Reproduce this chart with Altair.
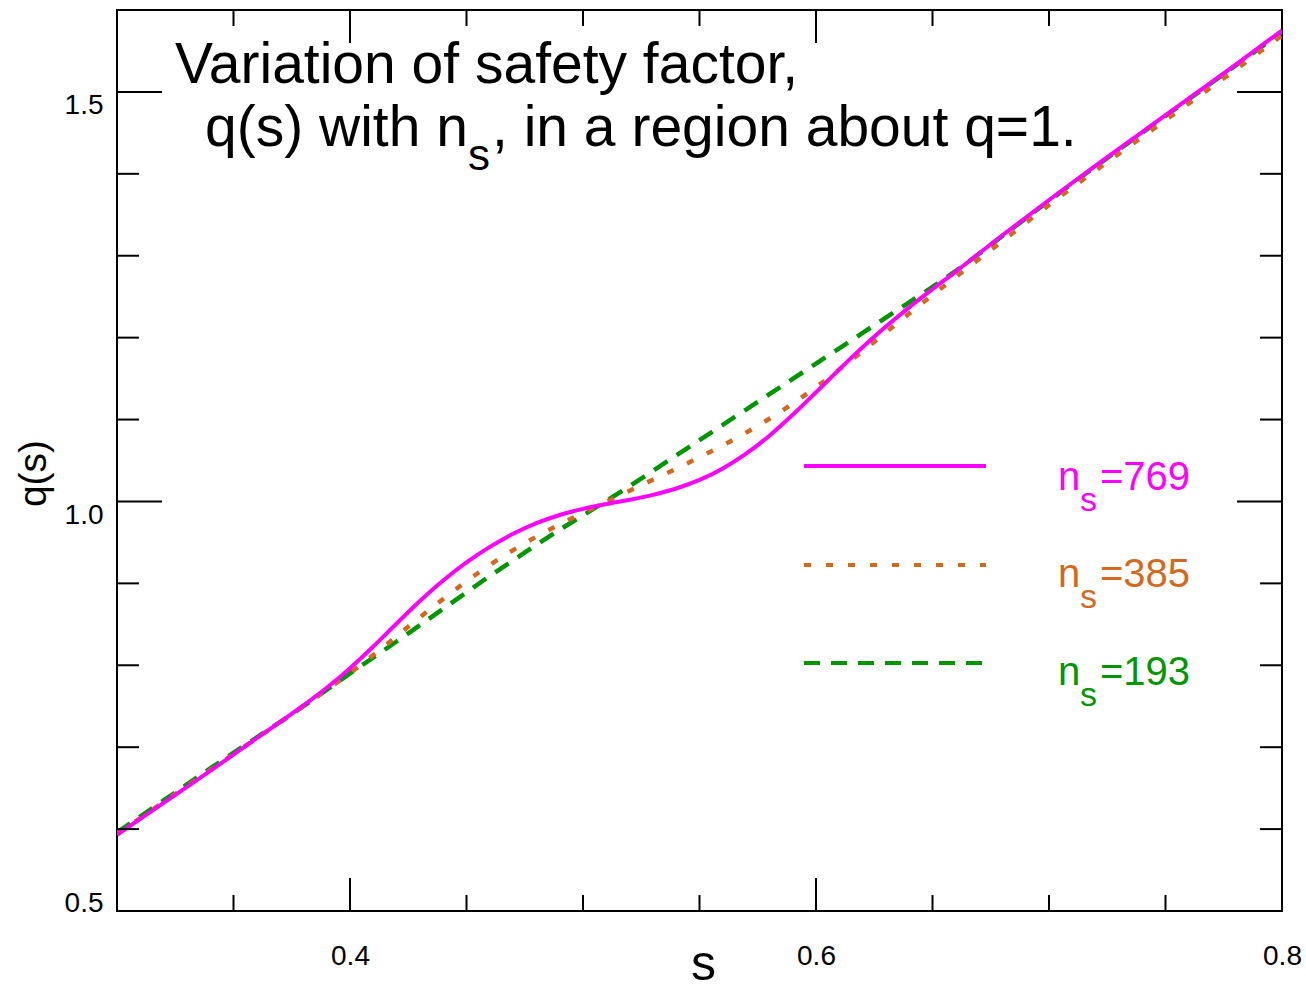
import altair as alt
import pandas as pd

# Radial coordinate s (shared by all three resolutions)
S = [0.30, 0.32, 0.34, 0.36, 0.38,
     0.39, 0.40, 0.41, 0.42, 0.43, 0.44, 0.45, 0.46, 0.47, 0.48,
     0.49, 0.50, 0.51, 0.52, 0.53, 0.54, 0.55, 0.56, 0.57, 0.58,
     0.59, 0.60, 0.61, 0.62, 0.63, 0.64, 0.65, 0.66,
     0.68, 0.70, 0.72, 0.74, 0.76, 0.78, 0.80]

# Safety factor q(s) for each number of surfaces n_s
Q_769 = [0.593, 0.632, 0.671, 0.711, 0.751,
         0.7725, 0.7965, 0.823, 0.851, 0.8785, 0.9035, 0.9255, 0.9445, 0.9605, 0.9735,
         0.9835, 0.991, 0.9968, 1.002, 1.008, 1.0158, 1.0263, 1.0403, 1.0583, 1.0803,
         1.1058, 1.1333, 1.1613, 1.1883, 1.2135, 1.237, 1.2592, 1.2807,
         1.325, 1.368, 1.410, 1.451, 1.492, 1.533, 1.575]
Q_385 = [0.594, 0.633, 0.672, 0.711, 0.750,
         0.770, 0.7905, 0.8125, 0.8355, 0.8585, 0.881, 0.9025, 0.9225, 0.9405, 0.957,
         0.972, 0.986, 0.9995, 1.013, 1.0265, 1.040, 1.054, 1.0685, 1.084, 1.101,
         1.1195, 1.1395, 1.161, 1.1835, 1.2065, 1.2295, 1.252, 1.274,
         1.318, 1.362, 1.404, 1.445, 1.486, 1.527, 1.569]
Q_193 = [0.596, 0.635, 0.674, 0.712, 0.750,
         0.770, 0.790, 0.8095, 0.829, 0.849, 0.869, 0.889, 0.909, 0.928, 0.947,
         0.9655, 0.983, 1.0008, 1.0187, 1.0374, 1.0561, 1.0748, 1.0935, 1.1122, 1.1309,
         1.1496, 1.1683, 1.187, 1.2057, 1.2244, 1.2431, 1.262, 1.2815,
         1.324, 1.367, 1.409, 1.450, 1.491, 1.532, 1.573]

SERIES = ["769", "385", "193"]
COLORS = ["#ff00ff", "#d2691e", "#009600"]

# Tick positions
X_MAJOR = [0.4, 0.6]
X_MINOR = [0.35, 0.45, 0.5, 0.55, 0.65, 0.7, 0.75]
Y_MAJOR = [0.5, 1.0, 1.5]
Y_MINOR = [0.6, 0.7, 0.8, 0.9, 1.1, 1.2, 1.3, 1.4]
X_LABELS = [0.4, 0.6, 0.8]
Y_LABELS = [0.5, 1.0, 1.5]

W, H = 1165, 901
FONT = "Liberation Sans"

xs = alt.Scale(domain=[0.3, 0.8], nice=False, zero=False)
ys = alt.Scale(domain=[0.5, 1.6], nice=False, zero=False)

x_axis = alt.Axis(
    values=X_LABELS, format=".1f", ticks=False, tickSize=0, domain=False, grid=False,
    labelFont=FONT, labelFontSize=28, labelColor="black", labelPadding=31,
    labelFlush=False, labelOverlap=False,
    title="s", titleFont=FONT, titleFontSize=50, titleFontWeight="normal",
    titleColor="black", titleX=586, titleY=68, titleBaseline="alphabetic",
    titleAlign="center",
)
y_axis = alt.Axis(
    values=Y_LABELS, format=".1f", ticks=False, tickSize=0, domain=False, grid=False,
    labelFont=FONT, labelFontSize=28, labelColor="black", labelPadding=14,
    labelFlush=False, labelOverlap=False,
    labelBaseline={"condition": {"test": "datum.value < 0.6", "value": "alphabetic"},
                   "value": "top"},
    title="q(s)", titleFont=FONT, titleFontSize=39, titleFontWeight="normal",
    titleColor="black", titleAngle=270, titleX=-72, titleY=463,
    titleBaseline="alphabetic", titleAlign="center",
)


def curve(q, color, width, dash=None):
    df = pd.DataFrame({"s": S, "q": q})
    kw = dict(color=color, strokeWidth=width, interpolate="monotone", clip=True)
    if dash:
        kw["strokeDash"] = dash
    return alt.Chart(df).mark_line(**kw).encode(
        x=alt.X("s:Q", scale=xs, axis=x_axis),
        y=alt.Y("q:Q", scale=ys, axis=y_axis),
    )


def xticks(values, length):
    df = pd.DataFrame({"s": values})
    base = alt.Chart(df).mark_rule(color="black", strokeWidth=2)
    bottom = base.encode(x=alt.X("s:Q", scale=xs, axis=x_axis),
                         y=alt.value(H), y2=alt.value(H - length))
    top = base.encode(x=alt.X("s:Q", scale=xs, axis=x_axis),
                      y=alt.value(0), y2=alt.value(length))
    return bottom + top


def yticks(values, length):
    df = pd.DataFrame({"q": values})
    base = alt.Chart(df).mark_rule(color="black", strokeWidth=2)
    left = base.encode(y=alt.Y("q:Q", scale=ys, axis=y_axis),
                       x=alt.value(0), x2=alt.value(length))
    right = base.encode(y=alt.Y("q:Q", scale=ys, axis=y_axis),
                        x=alt.value(W), x2=alt.value(W - length))
    return left + right


ONE = pd.DataFrame({"k": [0]})


def label(text, x, y, size, color="black"):
    return alt.Chart(ONE).mark_text(
        text=text, align="left", baseline="alphabetic", font=FONT,
        fontSize=size, color=color,
    ).encode(x=alt.value(x), y=alt.value(y))


def legend_entry(i, y_line, y_text, dash=None):
    kw = dict(color=COLORS[i], strokeWidth=4)
    if dash:
        kw["strokeDash"] = dash
    sample = alt.Chart(ONE).mark_rule(**kw).encode(
        x=alt.value(687), x2=alt.value(869), y=alt.value(y_line))
    return (sample
            + label("n", 941, y_text, 40, COLORS[i])
            + label("s", 963, y_text + 21, 34, COLORS[i])
            + label("=" + SERIES[i], 983, y_text, 40, COLORS[i]))


lines = (curve(Q_193, COLORS[2], 4.5, [16, 11])
         + curve(Q_385, COLORS[1], 4.5, [7, 15])
         + curve(Q_769, COLORS[0], 4))

ticks = (xticks(X_MAJOR, 33) + xticks(X_MINOR, 16)
         + yticks(Y_MAJOR, 45) + yticks(Y_MINOR, 22))

heading = (label("Variation of safety factor,", 58, 73, 57)
           + label("q(s) with n", 88, 136, 57)
           + label("s", 351, 160, 44)
           + label(", in a region about q=1.", 375, 136, 57))

legend = (legend_entry(0, 456, 480)
          + legend_entry(1, 555, 577, [7, 15])
          + legend_entry(2, 653, 675, [16, 11]))

chart = alt.layer(lines, ticks, heading, legend).properties(
    width=W, height=H,
    padding={"left": 117, "top": 10, "right": 24, "bottom": 79},
    autosize="none",
    background="white",
).configure_view(stroke="black", strokeWidth=2)

chart.save("out.html", embed_options={"renderer": "svg", "actions": False})
